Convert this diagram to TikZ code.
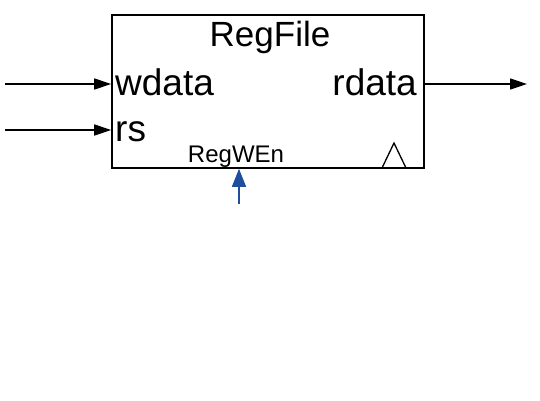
\documentclass[tikz,border=0pt]{standalone}
\usepackage{fontspec}
\setmainfont{Liberation Sans}
\usetikzlibrary{arrows.meta}
\definecolor{ctlblue}{HTML}{1F4E9C}
\tikzset{
  wire/.style={line width=1.6pt, -{Triangle[length=17pt,width=11pt]}},
  ctlwire/.style={line width=1.6pt, ctlblue, -{Triangle[length=18pt,width=14pt]}},
  titletxt/.style={inner sep=0pt, font=\fontsize{35}{40}\selectfont},
  porttxt/.style={inner sep=0pt, font=\fontsize{37}{42}\selectfont},
  smalltxt/.style={inner sep=0pt, font=\fontsize{24}{28}\selectfont},
}
\begin{document}
\begin{tikzpicture}[x=1pt,y=-1pt]
\useasboundingbox (0,0) rectangle (540,400);
\node[draw, line width=1.6pt, minimum width=312pt, minimum height=153pt, inner sep=0pt] (box) at (268,91.5) {};
\node[titletxt, anchor=base] (title) at (270,46) {RegFile};
\node[porttxt, anchor=base west] (wdata) at (115,95) {wdata};
\node[porttxt, anchor=base west] (rs) at (115,141) {rs};
\node[porttxt, anchor=base east] (rdata) at (417,95) {rdata};
\node[smalltxt, anchor=base] (regwen) at (236,162) {RegWEn};
\draw[line width=1.3pt] (382,168) -- (394,143) -- (406,168);
\coordinate (win) at (5,84);
\coordinate (rsin) at (5,130);
\coordinate (rout) at (527,84);
\coordinate (wen) at (239,204);
\draw[wire] (win) -- (win -| box.west);
\draw[wire] (rsin) -- (rsin -| box.west);
\draw[wire] (rout -| box.east) -- (rout);
\draw[ctlwire] (wen) -- (wen |- box.south);
\end{tikzpicture}
\end{document}
